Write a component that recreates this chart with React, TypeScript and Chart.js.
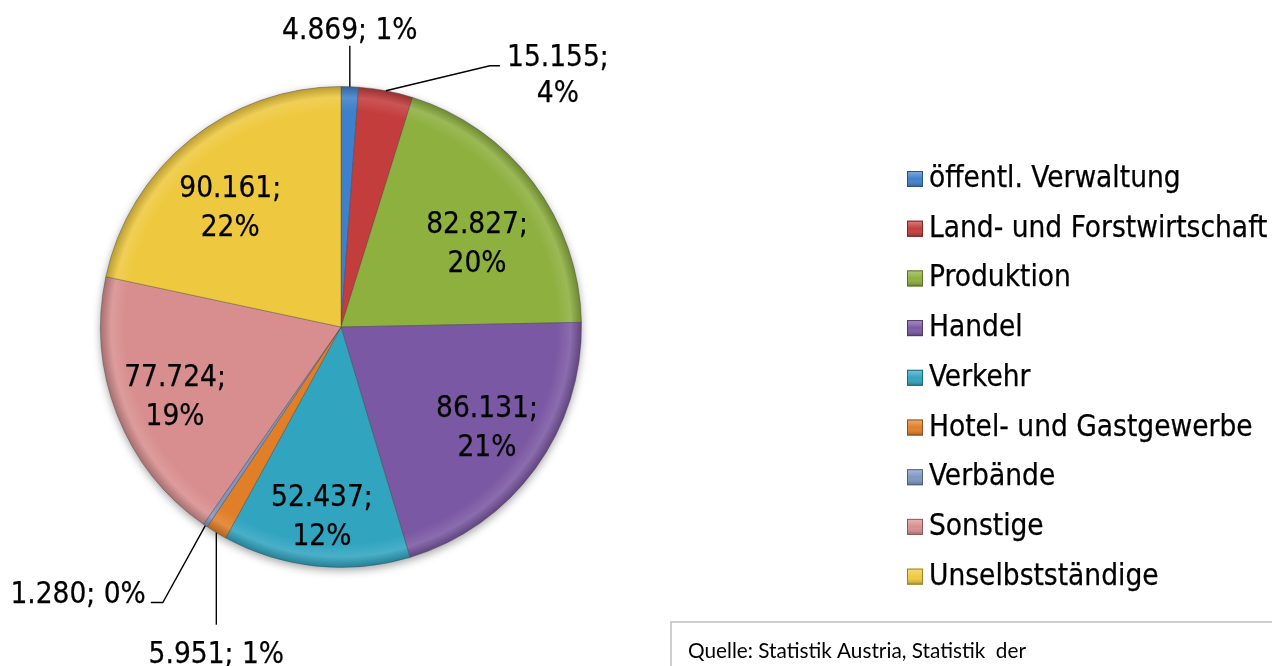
import React, { useEffect, useRef } from 'react';
import { Chart, registerables } from 'chart.js';

Chart.register(...registerables);

// ---- data ----
const categories = [
  'öffentl. Verwaltung',
  'Land- und Forstwirtschaft',
  'Produktion',
  'Handel',
  'Verkehr',
  'Hotel- und Gastgewerbe',
  'Verbände',
  'Sonstige',
  'Unselbstständige',
];
const values = [4869, 15155, 82827, 86131, 52437, 5951, 1280, 77724, 90161];
const percentLabels = ['1%', '4%', '20%', '21%', '12%', '1%', '0%', '19%', '22%'];
const colors = ['#3E80CB', '#C43D3D', '#8DB03F', '#7B58A3', '#31A4C0', '#E07F28', '#7E96C4', '#D88E8E', '#EEC93F'];
const sourceText = 'Quelle: Statistik Austria, Statistik  der';

// ---- label placement (styling) ----
type Layout =
  | { mode: 'in'; dAngle: number; rf: number }
  | { mode: 'out'; twoLines: boolean; leader: number[][]; text: number[]; align: CanvasTextAlign };

const LABEL_LAYOUT: Layout[] = [
  { mode: 'out', twoLines: false, leader: [[0, -41]], text: [0, -48], align: 'center' },
  { mode: 'out', twoLines: true, leader: [[104, -25], [114, -25]], text: [172, -25], align: 'center' },
  { mode: 'in', dAngle: 4.9, rf: 0.667 },
  { mode: 'in', dAngle: -2.0, rf: 0.733 },
  { mode: 'in', dAngle: -0.2, rf: 0.786 },
  { mode: 'out', twoLines: false, leader: [[0, 92]], text: [0, 130], align: 'center' },
  { mode: 'out', twoLines: false, leader: [[-42.5, 77], [-54.5, 77]], text: [-59.5, 77], align: 'right' },
  { mode: 'in', dAngle: -0.8, rf: 0.746 },
  { mode: 'in', dAngle: -3.6, rf: 0.681 },
];

const FONT = '29.5px "DejaVu Sans Condensed", "DejaVu Sans", sans-serif';
const TEXT_STROKE = 0.25;

function fmt(n: number): string {
  return String(n).replace(/\B(?=(\d{3})+(?!\d))/g, '.');
}

function shade(hex: string, f: number): string {
  const n = parseInt(hex.slice(1), 16);
  let r = (n >> 16) & 255, g = (n >> 8) & 255, b = n & 255;
  if (f < 0) {
    r = Math.round(r * (1 + f)); g = Math.round(g * (1 + f)); b = Math.round(b * (1 + f));
  } else {
    r = Math.round(r + (255 - r) * f); g = Math.round(g + (255 - g) * f); b = Math.round(b + (255 - b) * f);
  }
  return `rgb(${r},${g},${b})`;
}

function boldText(ctx: CanvasRenderingContext2D, t: string, x: number, y: number) {
  ctx.fillText(t, x, y);
  ctx.strokeText(t, x, y);
}

const shadowPlugin = {
  id: 'pieShadow',
  beforeDatasetsDraw(chart: any) {
    const meta = chart.getDatasetMeta(0);
    const el = meta.data[0];
    if (!el) return;
    const { x, y, outerRadius } = el.getProps(['x', 'y', 'outerRadius'], true);
    const ctx = chart.ctx;
    ctx.save();
    ctx.shadowColor = 'rgba(0,0,0,0.35)';
    ctx.shadowBlur = 8;
    ctx.shadowOffsetY = 3;
    ctx.beginPath();
    ctx.arc(x, y, outerRadius, 0, Math.PI * 2);
    ctx.fillStyle = '#bbbbbb';
    ctx.fill();
    ctx.restore();
  },
};

const labelsPlugin = {
  id: 'pieLabels',
  afterDatasetsDraw(chart: any) {
    const ctx = chart.ctx;
    const meta = chart.getDatasetMeta(0);
    const ds = chart.data.datasets[0];
    ctx.save();
    ctx.font = FONT;
    ctx.fillStyle = '#000';
    ctx.textBaseline = 'alphabetic';
    meta.data.forEach((el: any, i: number) => {
      const { x, y, startAngle, endAngle, outerRadius } = el.getProps(
        ['x', 'y', 'startAngle', 'endAngle', 'outerRadius'], true);
      const mid = (startAngle + endAngle) / 2;
      const valText = fmt(ds.data[i]) + ';';
      const pct = percentLabels[i];
      const lay = LABEL_LAYOUT[i];
      ctx.strokeStyle = '#000';
      ctx.lineWidth = TEXT_STROKE;
      if (lay.mode === 'in') {
        const a = mid + (lay.dAngle * Math.PI) / 180;
        const r = outerRadius * lay.rf;
        const px = x + r * Math.cos(a);
        const py = y + r * Math.sin(a);
        ctx.textAlign = 'center';
        boldText(ctx, valText, px, py - 9);
        boldText(ctx, pct, px, py + 30);
      } else {
        const ax = x + outerRadius * Math.cos(mid);
        const ay = y + outerRadius * Math.sin(mid);
        ctx.beginPath();
        ctx.moveTo(ax, ay);
        lay.leader.forEach((p) => ctx.lineTo(ax + p[0], ay + p[1]));
        ctx.lineWidth = 1.4;
        ctx.stroke();
        ctx.lineWidth = TEXT_STROKE;
        ctx.textAlign = lay.align;
        const tx = ax + lay.text[0];
        const ty = ay + lay.text[1];
        if (lay.twoLines) {
          boldText(ctx, valText, tx, ty);
          boldText(ctx, pct, tx, ty + 36);
        } else {
          boldText(ctx, valText + ' ' + pct, tx, ty);
        }
      }
    });
    ctx.restore();
  },
};

const legendPlugin = {
  id: 'customLegend',
  afterDraw(chart: any) {
    const ctx = chart.ctx;
    const labels: string[] = chart.data.labels;
    const cols: string[] = chart.data.datasets[0].backgroundColorBase;
    ctx.save();
    ctx.font = FONT;
    ctx.textAlign = 'left';
    ctx.textBaseline = 'alphabetic';
    labels.forEach((lab, i) => {
      const top = 171 + i * 49.7;
      const left = 907;
      const s = 16;
      ctx.fillStyle = cols[i];
      ctx.fillRect(left, top, s, s);
      const g = ctx.createLinearGradient(0, top, 0, top + s);
      g.addColorStop(0, 'rgba(255,255,255,0.35)');
      g.addColorStop(0.5, 'rgba(255,255,255,0.0)');
      g.addColorStop(1, 'rgba(0,0,0,0.3)');
      ctx.fillStyle = g;
      ctx.fillRect(left, top, s, s);
      ctx.strokeStyle = shade(cols[i], -0.35);
      ctx.lineWidth = 1;
      ctx.strokeRect(left + 0.5, top + 0.5, s - 1, s - 1);
      ctx.fillStyle = '#000';
      ctx.strokeStyle = '#000';
      ctx.lineWidth = TEXT_STROKE;
      boldText(ctx, lab, 929, top + s);
    });

    // source box
    ctx.beginPath();
    ctx.moveTo(671, 666);
    ctx.lineTo(671, 622);
    ctx.lineTo(1272, 622);
    ctx.strokeStyle = '#bfbfbf';
    ctx.lineWidth = 1.5;
    ctx.stroke();
    ctx.fillStyle = '#000';
    ctx.font = '22px Lato, "Open Sans", sans-serif';
    const w = ctx.measureText(sourceText).width;
    ctx.translate(688, 658);
    ctx.scale(338 / w, 1);
    ctx.fillText(sourceText, 0, 0);
    ctx.restore();
  },
};

export default function App() {
  const ref = useRef<HTMLCanvasElement | null>(null);
  useEffect(() => {
    if (!ref.current) return;
    const bg = (c: any) => {
      const base = colors[c.dataIndex];
      const chart = c.chart;
      const area = chart.chartArea;
      if (!area) return base;
      const cx = (area.left + area.right) / 2;
      const cy = (area.top + area.bottom) / 2;
      const r = (Math.min(area.width, area.height) - 1) / 2;
      const g = chart.ctx.createRadialGradient(cx, cy, 0, cx, cy, r);
      g.addColorStop(0, base);
      g.addColorStop(0.9, base);
      g.addColorStop(0.955, shade(base, 0.12));
      g.addColorStop(1, shade(base, -0.22));
      return g;
    };
    const chart = new Chart(ref.current, {
      type: 'pie',
      data: {
        labels: categories,
        datasets: [
          {
            data: values,
            backgroundColor: bg,
            backgroundColorBase: colors,
            borderColor: 'rgba(60,60,60,0.35)',
            borderWidth: 1,
          } as any,
        ],
      },
      options: {
        responsive: false,
        animation: false,
        layout: { padding: { left: 100, top: 86, right: 690, bottom: 98 } },
        plugins: { legend: { display: false }, tooltip: { enabled: false } },
      },
      plugins: [shadowPlugin, labelsPlugin, legendPlugin],
    });
    return () => chart.destroy();
  }, []);
  return (
    <div style={{ position: 'fixed', left: 0, top: 0, width: 1272, height: 666, overflow: 'hidden', background: '#fff' }}>
      <canvas ref={ref} width={1272} height={666} style={{ width: 1272, height: 666, display: 'block' }} />
    </div>
  );
}
